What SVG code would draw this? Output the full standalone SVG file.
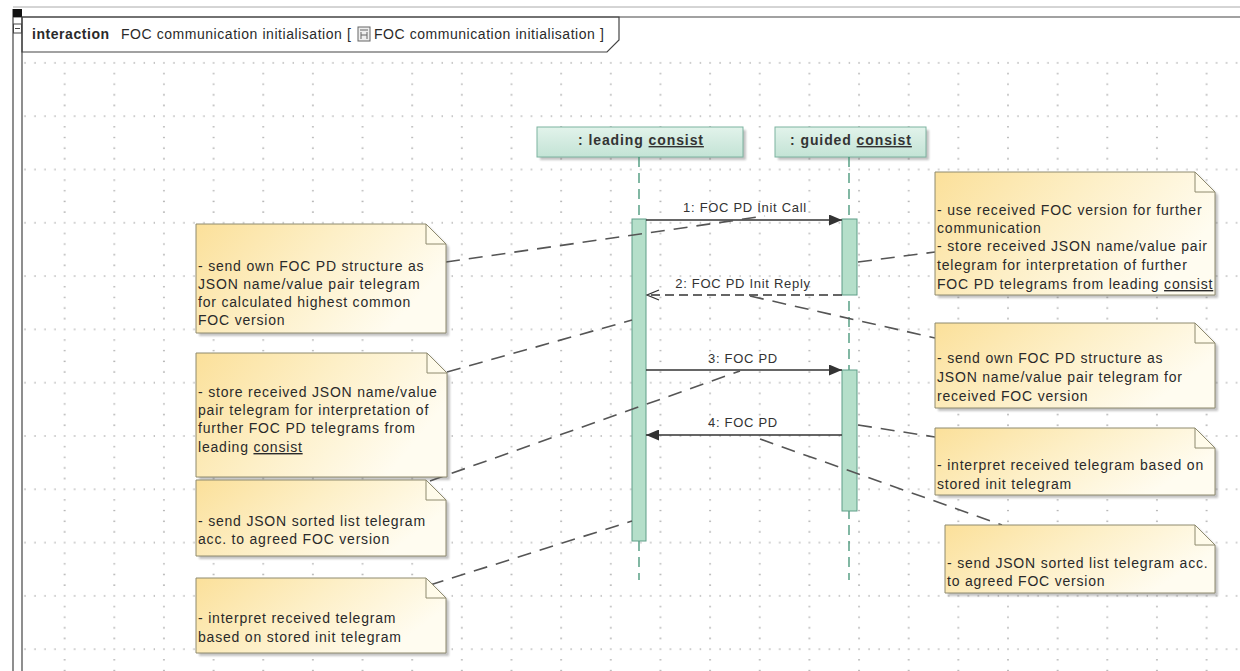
<svg xmlns="http://www.w3.org/2000/svg" width="1240" height="671" viewBox="0 0 1240 671">
<defs>
<style>
.t{font-family:"Liberation Sans",Arial,sans-serif;font-size:14px;letter-spacing:0.8px;fill:#2a2a2a}
.ht{font-family:"Liberation Sans",Arial,sans-serif;font-size:14px;letter-spacing:0.55px;fill:#2a2a2a}
.lh{font-family:"Liberation Sans",Arial,sans-serif;font-size:14px;font-weight:bold;letter-spacing:0.9px;fill:#333}
.ml{font-family:"Liberation Sans",Arial,sans-serif;font-size:13px;letter-spacing:0.7px;fill:#333}
.u{text-decoration:underline}
.note{fill:url(#ng);stroke:#8e8a6e;stroke-width:1}
.fold{fill:#fffbea;stroke:#8e8a6e;stroke-width:1}
.shadow{fill:#555;opacity:0.35;filter:url(#blur)}
.head{fill:url(#hg);stroke:#7db3a0;stroke-width:1}
.act{fill:#b5dfca;stroke:#5f9e88;stroke-width:1}
.life{stroke:#3f9273;stroke-width:1.3;stroke-dasharray:10 6;fill:none}
.msg{stroke:#333;stroke-width:1.3;fill:none}
.anc{stroke:#555;stroke-width:1.6;stroke-dasharray:14 9;fill:none}
.frame{stroke:#444;stroke-width:1.2;fill:none}
</style>
<linearGradient id="ng" x1="0" y1="0" x2="1" y2="0.4">
<stop offset="0" stop-color="#fbe09a"/>
<stop offset="0.5" stop-color="#fdefc6"/>
<stop offset="1" stop-color="#fffcf0"/>
</linearGradient>
<linearGradient id="hg" x1="0" y1="0" x2="0" y2="1">
<stop offset="0" stop-color="#e2f3eb"/>
<stop offset="1" stop-color="#c3e3d5"/>
</linearGradient>
<pattern id="grid" x="14" y="8.6" width="49.65" height="53.3" patternUnits="userSpaceOnUse">
<g fill="#9c9c9c">
<circle cx="1" cy="1" r="0.8"/><circle cx="11" cy="1" r="0.8"/><circle cx="21" cy="1" r="0.8"/><circle cx="31" cy="1" r="0.8"/><circle cx="41" cy="1" r="0.8"/>
<circle cx="1" cy="11.7" r="0.8"/><circle cx="1" cy="22.3" r="0.8"/><circle cx="1" cy="33" r="0.8"/><circle cx="1" cy="43.6" r="0.8"/>
</g>
</pattern>
<marker id="af" markerUnits="userSpaceOnUse" markerWidth="13" markerHeight="11" refX="13" refY="5.5" orient="auto">
<path d="M0,0 L13,5.5 L0,11 Z" fill="#333"/>
</marker>
<marker id="ao" markerUnits="userSpaceOnUse" markerWidth="14" markerHeight="12" refX="13" refY="6" orient="auto">
<path d="M1,1 L13,6 L1,11" fill="none" stroke="#333" stroke-width="1.3"/>
</marker>
<filter id="blur" x="-10%" y="-10%" width="120%" height="120%"><feGaussianBlur stdDeviation="1.3"/></filter>
</defs>

<rect x="0" y="0" width="1240" height="671" fill="#fff"/>
<rect x="23" y="53" width="1217" height="618" fill="url(#grid)"/>

<g id="frame">
<line x1="13" y1="7" x2="1240" y2="7" stroke="#aaa" stroke-width="1"/>
<line x1="13" y1="17" x2="1240" y2="17" class="frame"/>
<line x1="13" y1="9" x2="13" y2="671" class="frame"/>
<line x1="22" y1="17" x2="22" y2="671" class="frame"/>
<rect x="13" y="9" width="9" height="8" fill="#111"/>
<rect x="13.5" y="24" width="8" height="9" fill="#fff" stroke="#444" stroke-width="1"/>
<line x1="15" y1="28.5" x2="20" y2="28.5" stroke="#444" stroke-width="1"/>
<path d="M22 17 H619 V40 L607 52 H22 Z" fill="#fff" class="frame"/>
<text class="ht" x="32" y="39" font-weight="bold" letter-spacing="0.8">interaction</text>
<text class="ht" x="121" y="39">FOC communication initialisation [</text>
<rect x="358" y="27" width="12" height="14" fill="#eee" stroke="#666" stroke-width="1"/>
<path d="M360 30 H368 M361 32 V39 M367 32 V39 M361 35 H367" stroke="#666" stroke-width="1" fill="none"/>
<text class="ht" x="374" y="39">FOC communication initialisation ]</text>
</g>

<g id="leading">
<rect x="540" y="130" width="206" height="30" class="shadow"/>
<rect x="537" y="127" width="206" height="30" class="head"/>
<text class="lh" x="641" y="145" text-anchor="middle">: leading <tspan class="u">consist</tspan></text>
<line x1="639" y1="157" x2="639" y2="580" class="life"/>
<rect x="632" y="219" width="14" height="322" class="act"/>
</g>

<g id="guided">
<rect x="778" y="130" width="151" height="30" class="shadow"/>
<rect x="775" y="127" width="151" height="30" class="head"/>
<text class="lh" x="851" y="145" text-anchor="middle">: guided <tspan class="u">consist</tspan></text>
<line x1="849" y1="157" x2="849" y2="580" class="life"/>
<rect x="842" y="219" width="15" height="76" class="act"/>
<rect x="842" y="370" width="15" height="141" class="act"/>
</g>

<g id="connectors">
<line x1="646" y1="220" x2="842" y2="220" class="msg" marker-end="url(#af)"/>
<text class="ml" x="745" y="212" text-anchor="middle">1: FOC PD Init Call</text>
<line x1="842" y1="295" x2="647" y2="295" class="msg" stroke-dasharray="9 5" marker-end="url(#ao)"/>
<text class="ml" x="743" y="288" text-anchor="middle">2: FOC PD Init Reply</text>
<line x1="646" y1="370" x2="842" y2="370" class="msg" marker-end="url(#af)"/>
<text class="ml" x="743" y="363" text-anchor="middle">3: FOC PD</text>
<line x1="842" y1="435" x2="646" y2="435" class="msg" marker-end="url(#af)"/>
<text class="ml" x="743" y="427" text-anchor="middle">4: FOC PD</text>

<line x1="446" y1="262" x2="765" y2="216" class="anc"/>
<line x1="858" y1="262" x2="935" y2="252" class="anc"/>
<line x1="750" y1="296" x2="935" y2="338" class="anc"/>
<line x1="447" y1="372" x2="632" y2="320" class="anc"/>
<line x1="430" y1="481" x2="740" y2="371" class="anc"/>
<line x1="858" y1="425" x2="935" y2="437" class="anc"/>
<line x1="760" y1="439" x2="1002" y2="525" class="anc"/>
<line x1="430" y1="585" x2="632" y2="521" class="anc"/>
</g>

<g id="note-l1">
<path d="M199 227 H429 L449 247 V336 H199 Z" class="shadow"/>
<path d="M196 224 H426 L446 244 V333 H196 Z" class="note"/>
<path d="M426 224 V244 H446 Z" class="fold"/>
<text class="t" x="198" y="271">- send own FOC PD structure as</text>
<text class="t" x="198" y="289">JSON name/value pair telegram</text>
<text class="t" x="198" y="307">for calculated highest common</text>
<text class="t" x="198" y="325">FOC version</text>
</g>

<g id="note-l2">
<path d="M199 356 H430 L450 376 V480 H199 Z" class="shadow"/>
<path d="M196 353 H427 L447 373 V477 H196 Z" class="note"/>
<path d="M427 353 V373 H447 Z" class="fold"/>
<text class="t" x="198" y="397">- store received JSON name/value</text>
<text class="t" x="198" y="415">pair telegram for interpretation of</text>
<text class="t" x="198" y="433">further FOC PD telegrams from</text>
<text class="t" x="198" y="452">leading <tspan class="u">consist</tspan></text>
</g>

<g id="note-l3">
<path d="M199 483 H429 L449 503 V559 H199 Z" class="shadow"/>
<path d="M196 480 H426 L446 500 V556 H196 Z" class="note"/>
<path d="M426 480 V500 H446 Z" class="fold"/>
<text class="t" x="198" y="526">- send JSON sorted list telegram</text>
<text class="t" x="198" y="544">acc. to agreed FOC version</text>
</g>

<g id="note-l4">
<path d="M199 581 H429 L449 601 V656 H199 Z" class="shadow"/>
<path d="M196 578 H426 L446 598 V653 H196 Z" class="note"/>
<path d="M426 578 V598 H446 Z" class="fold"/>
<text class="t" x="198" y="623">- interpret received telegram</text>
<text class="t" x="198" y="642">based on stored init telegram</text>
</g>

<g id="note-r1">
<path d="M938 175 H1198 L1218 195 V298 H938 Z" class="shadow"/>
<path d="M935 172 H1195 L1215 192 V295 H935 Z" class="note"/>
<path d="M1195 172 V192 H1215 Z" class="fold"/>
<text class="t" x="937" y="215">- use received FOC version for further</text>
<text class="t" x="937" y="233">communication</text>
<text class="t" x="937" y="251">- store received JSON name/value pair</text>
<text class="t" x="937" y="270">telegram for interpretation of further</text>
<text class="t" x="937" y="289">FOC PD telegrams from leading <tspan class="u">consist</tspan></text>
</g>

<g id="note-r2">
<path d="M938 326 H1198 L1218 346 V411 H938 Z" class="shadow"/>
<path d="M935 323 H1195 L1215 343 V408 H935 Z" class="note"/>
<path d="M1195 323 V343 H1215 Z" class="fold"/>
<text class="t" x="937" y="363">- send own FOC PD structure as</text>
<text class="t" x="937" y="382">JSON name/value pair telegram for</text>
<text class="t" x="937" y="401">received FOC version</text>
</g>

<g id="note-r3">
<path d="M938 431 H1198 L1218 451 V498 H938 Z" class="shadow"/>
<path d="M935 428 H1195 L1215 448 V495 H935 Z" class="note"/>
<path d="M1195 428 V448 H1215 Z" class="fold"/>
<text class="t" x="937" y="470">- interpret received telegram based on</text>
<text class="t" x="937" y="489">stored init telegram</text>
</g>

<g id="note-r4">
<path d="M948 528 H1198 L1218 548 V596 H948 Z" class="shadow"/>
<path d="M945 525 H1195 L1215 545 V593 H945 Z" class="note"/>
<path d="M1195 525 V545 H1215 Z" class="fold"/>
<text class="t" x="947" y="568">- send JSON sorted list telegram acc.</text>
<text class="t" x="947" y="586">to agreed FOC version</text>
</g>
</svg>
